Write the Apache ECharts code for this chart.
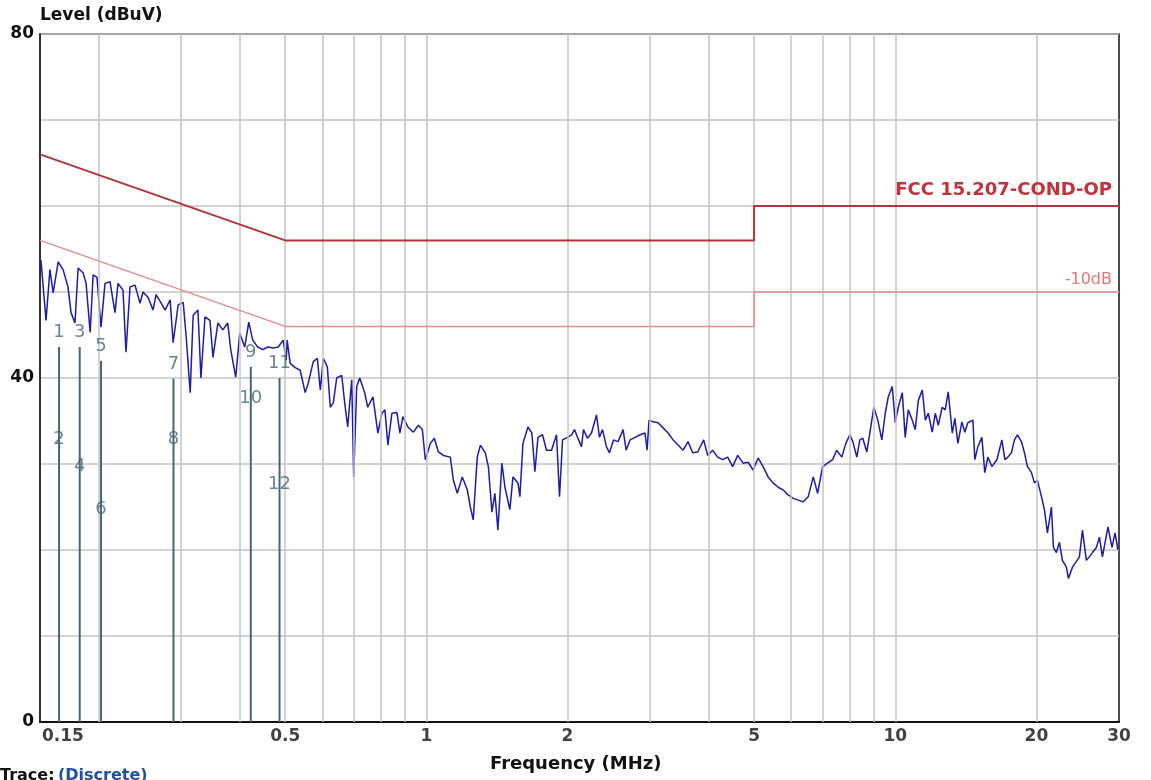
<!DOCTYPE html>
<html>
<head>
<meta charset="utf-8">
<script src="https://cdn.jsdelivr.net/npm/echarts@6/dist/echarts.min.js"></script>
<style>
html,body{margin:0;padding:0;background:#fff;}
#chart{width:1151px;height:780px;}
</style>
</head>
<body>
<div id="chart"></div>
<script>
// ---- data ----
const freqMHz = [
0.1507,0.1545,0.1575,0.160,0.164,0.168,0.1721,0.1747,0.1781,0.1809,0.1854,0.1881,0.1919,0.1947,0.1984,0.2024,0.2064,0.2115,0.2168,0.220,
0.2255,0.2288,0.2334,0.2392,0.2451,0.2488,0.2549,0.2613,0.2652,0.2719,0.2773,0.2842,0.2884,0.2956,0.3030,0.3075,0.3136,0.3182,0.3258,0.3306,
0.3372,0.3456,0.3507,0.3594,0.368,0.3771,0.3827,0.3922,0.400,0.4099,0.4181,0.4263,0.4369,0.4478,0.4589,0.4714,0.4831,0.4951,0.5025,
0.5049,0.5124,0.5252,0.5382,0.5516,0.5598,0.574,0.5855,0.5941,0.603,0.6149,0.624,0.6333,0.6439,0.660,0.6697,0.6797,0.6932,0.700,0.7104,
0.7209,0.7388,0.7498,0.7692,0.7883,0.8039,0.8159,0.828,0.8444,0.8653,0.8782,0.8912,0.9134,0.9382,0.9615,0.9806,0.995,1.020,1.040,1.061,
1.087,1.125,1.142,1.164,1.193,1.223,1.241,1.259,1.284,1.304,1.336,1.356,1.380,1.400,1.421,1.449,1.471,1.507,1.530,1.568,
1.583,1.607,1.647,1.679,1.704,1.730,1.769,1.804,1.849,1.895,1.923,1.952,2.000,
2.040,2.070,2.101,2.142,2.163,2.206,2.250,2.306,2.340,2.375,2.422,2.458,2.507,2.564,2.628,2.667,2.719,2.787,2.856,2.927,
2.956,2.985,3.045,3.120,3.198,3.277,3.359,3.442,3.528,3.615,3.698,3.790,3.903,3.980,4.079,4.180,4.284,4.391,4.500,4.612,
4.737,4.855,4.976,5.099,5.226,5.356,5.489,5.625,5.765,5.909,6.059,6.210,6.364,6.522,6.685,6.830,7.000,7.174,7.352,7.498,
7.692,7.845,8.000,8.119,8.280,8.403,8.527,8.696,8.825,9.000,9.178,9.361,9.521,9.662,9.854,10.00,10.15,10.35,10.50,10.66,
10.87,11.03,11.20,11.42,11.59,11.76,11.99,12.17,12.35,12.59,12.78,12.97,13.23,13.40,13.60,13.87,14.07,14.28,14.64,14.78,
15.00,15.30,15.52,15.76,16.07,16.47,16.88,17.13,17.38,17.69,17.95,18.22,18.58,18.86,19.14,19.52,19.80,20.10,20.50,20.80,
21.11,21.53,21.74,22.06,22.39,22.72,23.17,23.40,23.87,24.22,24.70,25.07,25.56,25.94,26.33,26.85,27.25,27.65,28.42,28.99,
29.42,29.85
];
const levelDb = [
53.7,46.7,52.6,49.9,53.5,52.6,50.6,47.6,46.4,52.8,52.2,51.0,45.3,52.0,51.7,45.9,51.0,51.2,47.6,51.0,
50.2,43.0,50.6,50.8,48.7,50.0,49.4,47.9,49.7,48.7,47.9,49.1,44.1,48.5,48.8,44.8,38.3,47.3,47.9,40.0,
47.1,46.7,42.4,46.4,45.6,46.4,43.3,40.1,45.2,43.6,46.5,44.4,43.6,43.3,43.6,43.5,43.6,44.4,42.1,
44.4,41.7,41.2,40.9,38.3,39.4,41.9,42.3,38.6,42.3,41.3,36.6,37.1,40.0,40.3,37.1,34.3,39.8,28.5,39.0,
40.0,38.3,36.6,37.8,33.6,35.9,36.3,32.2,35.9,36.0,33.6,35.5,34.3,33.7,34.5,34.0,30.5,32.4,33.0,31.4,
31.0,30.8,28.1,26.6,28.5,27.0,25.0,23.5,30.8,32.2,31.3,29.7,24.4,26.6,22.3,30.1,27.3,24.7,28.5,27.8,
26.2,32.4,34.3,33.6,29.1,33.1,33.4,31.6,31.6,33.4,26.2,32.8,33.1,
33.4,34.0,33.1,32.0,34.0,33.0,33.6,35.7,33.1,34.0,32.0,31.3,32.8,32.6,34.0,31.6,32.8,33.1,33.4,33.6,
31.6,35.1,34.9,34.8,34.2,33.6,32.8,32.2,31.6,32.6,31.3,31.4,32.8,31.0,31.6,30.8,30.5,30.8,29.7,31.0,
30.1,30.2,29.3,30.7,29.7,28.5,27.8,27.3,27.0,26.4,26.0,25.8,25.6,26.2,28.5,26.6,29.7,30.1,30.5,31.6,
30.8,32.4,33.4,32.6,30.8,32.8,33.0,31.4,33.6,36.6,35.1,32.8,35.9,37.8,39.0,34.8,36.6,38.3,33.1,36.3,
35.1,34.0,37.4,38.6,35.1,35.9,33.7,35.9,34.5,36.6,36.3,38.4,33.6,35.3,32.4,34.9,33.7,34.8,35.1,30.5,
32.0,33.1,29.0,30.8,29.7,30.5,32.8,30.5,30.8,31.3,32.8,33.4,32.6,31.3,29.7,29.0,27.8,28.1,26.2,24.7,
22.0,25.0,20.3,19.7,20.9,18.8,18.0,16.7,18.0,18.5,19.2,22.3,18.8,19.2,19.7,20.3,21.5,19.2,22.7,20.3,
22.0,20.0
];
const limitFreq = [0.15, 0.5, 5, 5, 30];
const limitQP = [66, 56, 56, 60, 60];
const limitQP10 = [56, 46, 46, 50, 50];
const markerFreq = [0.1647, 0.1823, 0.2024, 0.2889, 0.4223, 0.4863];
const markerQP = [43.6, 43.6, 42.0, 39.9, 41.3, 40.0];
const markerAV = [31.2, 28.0, 23.0, 31.2, 36.0, 25.9];
const markerQPLabels = ['1', '3', '5', '7', '9', '11'];
const markerAVLabels = ['2', '4', '6', '8', '10', '12'];
const gridFreqs = [0.2, 0.3, 0.4, 0.5, 0.6, 0.7, 0.8, 0.9, 1, 2, 3, 4, 5, 6, 7, 8, 9, 10, 20];
const xTickLabels = [0.15, 0.5, 1, 2, 5, 10, 20, 30];
const yTickLabels = [0, 40, 80];

// ---- build ----
const FONT = '"DejaVu Sans", "Liberation Sans", Arial, sans-serif';
const zip = (a, b) => a.map((v, i) => [v, b[i]]);
const markerColor = '#46677a';

const series = [];
// vertical grid lines (helper series with markLine)
series.push({
  type: 'line', data: [[0.15, 0]], symbol: 'none', silent: true, z: 1,
  lineStyle: { opacity: 0 },
  markLine: {
    silent: true, symbol: 'none', label: { show: false },
    lineStyle: { color: '#c4c4c4', type: 'solid', width: 1.5 },
    data: gridFreqs.map(f => ({ xAxis: f }))
  }
});
// marker vertical lines
markerFreq.forEach((f, i) => {
  series.push({
    type: 'line', data: [[f, 0], [f, markerQP[i]]], symbol: 'none', silent: true, z: 3,
    lineStyle: { color: markerColor, width: 2 }
  });
});
// trace
series.push({
  name: 'Trace', type: 'line', data: zip(freqMHz, levelDb), symbol: 'none', z: 4,
  lineStyle: { color: '#1c1cae', width: 1.5 }
});
// limit lines
series.push({
  type: 'line', data: zip(limitFreq, limitQP), symbol: 'none', z: 5,
  lineStyle: { color: '#b4343a', width: 2 },
  markPoint: {
    symbol: 'circle', symbolSize: 0, silent: true,
    data: [{ coord: [30, 60] }],
    label: { show: true, formatter: 'FCC 15.207-COND-OP', position: 'left', distance: 7, offset: [0, -16],
      color: '#c3323c', fontWeight: 'bold', fontSize: 18, fontFamily: FONT }
  }
});
series.push({
  type: 'line', data: zip(limitFreq, limitQP10), symbol: 'none', z: 5,
  lineStyle: { color: '#e88c8c', width: 1.5 },
  markPoint: {
    symbol: 'circle', symbolSize: 0, silent: true,
    data: [{ coord: [30, 50] }],
    label: { show: true, formatter: '-10dB', position: 'left', distance: 7, offset: [0, -12],
      color: '#e27878', fontSize: 16, fontFamily: FONT }
  }
});
// marker labels
series.push({
  type: 'scatter', symbolSize: 1, silent: true, z: 6,
  itemStyle: { color: 'rgba(0,0,0,0)' },
  data: markerFreq.map((f, i) => ({ value: [f, markerQP[i]], name: markerQPLabels[i] }))
    .concat(markerFreq.map((f, i) => ({ value: [f, markerAV[i]], name: markerAVLabels[i] }))),
  label: { show: true, formatter: '{b}', position: 'top', distance: 5, color: markerColor, fontSize: 18, fontFamily: FONT }
});
// x tick labels
series.push({
  type: 'scatter', symbolSize: 1, silent: true, z: 6, clip: false,
  itemStyle: { color: 'rgba(0,0,0,0)' },
  data: xTickLabels.map((f, i) => ({
    value: [f, 0], name: String(f),
    label: i === 0 ? { align: 'left', offset: [2, 0] } : {}
  })),
  label: { show: true, formatter: '{b}', position: 'bottom', distance: 6, color: '#111', fontWeight: 'bold', fontSize: 17, fontFamily: FONT }
});

const option = {
  animation: false,
  backgroundColor: '#fff',
  grid: { left: 40, right: 32, top: 34, bottom: 58, show: true, borderColor: '#111', borderWidth: 1.5, containLabel: false },
  xAxis: {
    type: 'log', min: 0.15, max: 30, logBase: 10,
    axisLine: { show: true, lineStyle: { color: '#111', width: 2 } },
    axisTick: { show: false }, axisLabel: { show: false }, splitLine: { show: false }, minorSplitLine: { show: false }
  },
  yAxis: {
    type: 'value', min: 0, max: 80, interval: 10,
    axisLine: { show: true, lineStyle: { color: '#333', width: 2 } },
    axisTick: { show: false },
    axisLabel: {
      formatter: v => (yTickLabels.indexOf(v) >= 0 ? String(v) : ''),
      color: '#111', fontWeight: 'bold', fontSize: 17, fontFamily: FONT, margin: 6
    },
    splitLine: { show: true, lineStyle: { color: '#c4c4c4', width: 1.5 } }
  },
  graphic: [
    { type: 'text', left: 40, top: 7, style: { text: 'Level (dBuV)', fill: '#111', font: 'bold 17px ' + FONT } },
    { type: 'text', left: 490, top: 755, style: { text: 'Frequency (MHz)', fill: '#111', font: 'bold 18px ' + FONT } },
    { type: 'text', left: 0, top: 768, style: {
        text: '{a|Trace:} {b|(Discrete)}',
        rich: { a: { fill: '#111', font: 'bold 16px ' + FONT }, b: { fill: '#1e50a8', font: 'bold 16px ' + FONT } }
    } }
  ],
  series: series
};
const chart = echarts.init(document.getElementById('chart'), null, { renderer: 'canvas' });
chart.setOption(option);
</script>
</body>
</html>
